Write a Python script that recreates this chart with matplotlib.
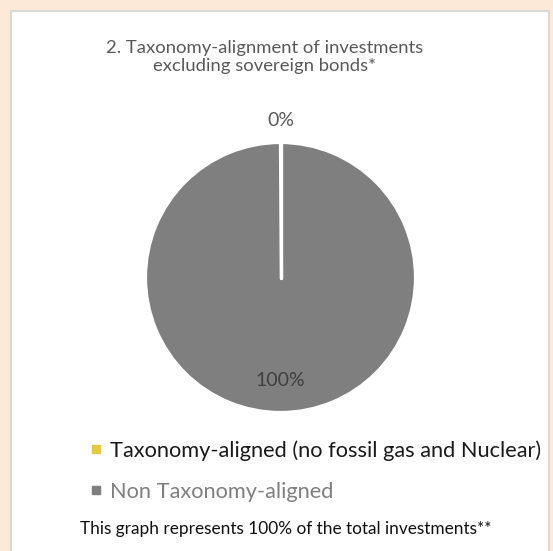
import matplotlib
matplotlib.use("Agg")
import matplotlib.pyplot as plt
from matplotlib.patches import Rectangle
from matplotlib.lines import Line2D
import numpy as np

plt.rcParams['font.family'] = ['Lato', 'DejaVu Sans']

# ---- data ----
categories = ["Taxonomy-aligned (no fossil gas and Nuclear)", "Non Taxonomy-aligned"]
values = [0, 100]
colors = ["#E3C945", "#7F7F7F"]
title = "2. Taxonomy-alignment of investments\nexcluding sovereign bonds*"
footnote = "This graph represents 100% of the total investments**"

W, H = 553, 551
fig = plt.figure(figsize=(W / 100, H / 100), dpi=100)
fig.patch.set_facecolor("#FCE9D7")

# white panel
fig.patches.append(Rectangle((11 / W, -0.01), (549 - 11) / W, (H - 11) / H + 0.01,
                             transform=fig.transFigure, facecolor="white",
                             edgecolor="#D9D9D9", linewidth=1.5, zorder=-5))

fig.text(264.5 / W, 1 - 57 / H, title, ha="center", va="center", fontsize=13.3,
         color="#595959", linespacing=1.2)

cx, cy, r = 280.5, 277.5, 135
ax = fig.add_axes([(cx - r) / W, (H - cy - r) / H, 2 * r / W, 2 * r / H])
ax.set_zorder(2)
wedges, _ = ax.pie(values, colors=colors, startangle=90, counterclock=False,
                   wedgeprops=dict(edgecolor="white", linewidth=2.3))
ax.set_xlim(-1, 1)
ax.set_ylim(-1, 1)
ax.set_aspect("equal")
ax.axis("off")

# white separator lines at the wedge boundaries (zero-size slice edge)
for w in wedges:
    a = np.deg2rad(w.theta2)
    ax.plot([0, np.cos(a)], [0, np.sin(a)], color="white", linewidth=2.4,
            solid_capstyle="round", zorder=5)

label_dist = [1.16, 0.76]
label_colors = ["#595959", "#404040"]
total = sum(values)
for w, v, d, c in zip(wedges, values, label_dist, label_colors):
    ang = np.deg2rad((w.theta1 + w.theta2) / 2)
    ax.text(d * np.cos(ang), d * np.sin(ang), f"{v / total * 100:.0f}%",
            ha="center", va="center", fontsize=14, color=c, clip_on=False)

handles = [Line2D([], [], marker="s", linestyle="none", markersize=5.5,
                  markerfacecolor=c, markeredgecolor=c) for c in colors]
leg = fig.legend(handles, categories, loc="upper left",
                 bbox_to_anchor=(89 / W, 1 - 440 / H), frameon=False,
                 fontsize=15.7, handlelength=0.6, handletextpad=0.35,
                 labelspacing=0.97, borderaxespad=0, borderpad=0)
text_colors = ["#1A1A1A", "#7F7F7F"]
for t, c in zip(leg.get_texts(), text_colors):
    t.set_color(c)

fig.text(286 / W, 1 - 529 / H, footnote, ha="center", va="center",
         fontsize=12.4, color="#111111")

fig.savefig("out.png", dpi=100, facecolor=fig.get_facecolor())
